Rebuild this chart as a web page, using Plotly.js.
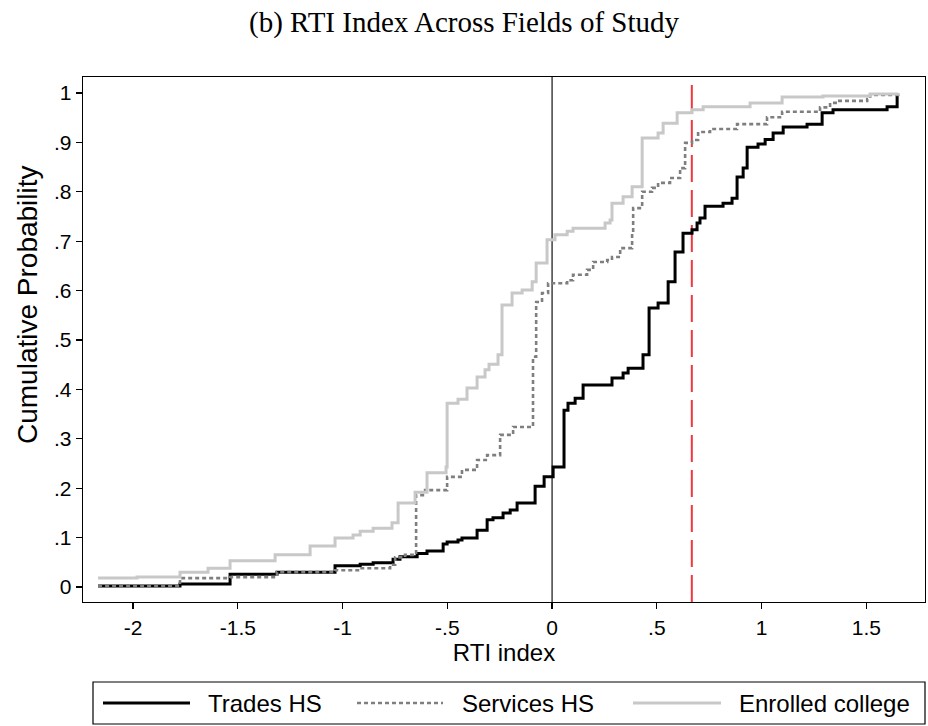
<!DOCTYPE html>
<html>
<head>
<meta charset="utf-8">
<script src="https://cdn.plot.ly/plotly-3.0.1.min.js"></script>
<style>
  html, body { margin: 0; padding: 0; background: #fff; }
  #chart { width: 928px; height: 726px; }
</style>
</head>
<body>
<div id="chart"></div>
<script>
// Empirical CDFs of the RTI index by field of study (step points: x where each level starts)
const tradesX = [-2.167,-1.776,-1.537,-1.313,-1.036,-0.916,-0.854,-0.759,-0.726,-0.644,-0.597,-0.520,-0.501,-0.449,-0.430,-0.358,-0.310,-0.282,-0.234,-0.200,-0.167,-0.081,-0.038,0.005,0.057,0.076,0.110,0.148,0.286,0.339,0.363,0.434,0.463,0.506,0.554,0.587,0.625,0.668,0.692,0.706,0.730,0.816,0.859,0.883,0.912,0.931,0.983,1.017,1.055,1.103,1.217,1.289,1.341,1.599,1.647];
const tradesY = [0.002,0.006,0.026,0.030,0.043,0.046,0.049,0.056,0.061,0.068,0.073,0.087,0.091,0.095,0.099,0.115,0.136,0.140,0.150,0.156,0.170,0.204,0.223,0.243,0.358,0.372,0.382,0.409,0.423,0.433,0.443,0.470,0.565,0.575,0.618,0.678,0.716,0.723,0.737,0.747,0.771,0.777,0.787,0.830,0.848,0.890,0.897,0.906,0.919,0.931,0.937,0.960,0.966,0.972,0.996];

const servicesX = [-2.167,-1.776,-1.537,-1.313,-1.036,-0.916,-0.773,-0.749,-0.702,-0.649,-0.606,-0.501,-0.430,-0.358,-0.310,-0.248,-0.186,-0.091,-0.076,-0.048,-0.019,0.072,0.100,0.167,0.196,0.263,0.286,0.325,0.382,0.387,0.430,0.477,0.506,0.563,0.611,0.635,0.668,0.697,0.754,0.883,1.026,1.098,1.279,1.327,1.360,1.504,1.518,1.652];
const servicesY = [0.002,0.018,0.020,0.030,0.034,0.038,0.045,0.060,0.065,0.186,0.196,0.223,0.237,0.257,0.267,0.308,0.324,0.466,0.577,0.595,0.615,0.621,0.632,0.642,0.658,0.662,0.668,0.686,0.716,0.767,0.800,0.808,0.818,0.828,0.848,0.899,0.905,0.921,0.927,0.937,0.951,0.962,0.971,0.980,0.984,0.988,0.996,0.998];

const collegeX = [-2.167,-1.981,-1.776,-1.642,-1.537,-1.322,-1.155,-1.036,-0.950,-0.916,-0.854,-0.764,-0.735,-0.654,-0.597,-0.506,-0.501,-0.449,-0.406,-0.358,-0.320,-0.301,-0.258,-0.239,-0.191,-0.143,-0.095,-0.076,-0.024,0.014,0.072,0.100,0.253,0.277,0.286,0.339,0.382,0.430,0.506,0.530,0.597,0.668,0.721,0.945,1.098,1.293,1.518,1.652];
const collegeY = [0.018,0.020,0.030,0.038,0.053,0.065,0.083,0.099,0.105,0.113,0.119,0.130,0.170,0.192,0.231,0.243,0.372,0.380,0.403,0.425,0.440,0.451,0.470,0.571,0.595,0.601,0.618,0.656,0.703,0.713,0.720,0.726,0.737,0.743,0.777,0.790,0.810,0.909,0.919,0.939,0.960,0.966,0.972,0.980,0.992,0.994,0.998,1.000];

const seriesNames = ['Trades HS', 'Services HS', 'Enrolled college'];
const xTickVals = [-2, -1.5, -1, -0.5, 0, 0.5, 1, 1.5];
const xTickText = ['-2', '-1.5', '-1', '-.5', '0', '.5', '1', '1.5'];
const yTickVals = [0, 0.1, 0.2, 0.3, 0.4, 0.5, 0.6, 0.7, 0.8, 0.9, 1];
const yTickText = ['0', '.1', '.2', '.3', '.4', '.5', '.6', '.7', '.8', '.9', '1'];
const refLines = [0, 0.667];   // zero line and cutoff line

const sans = 'Liberation Sans, Arial, sans-serif';
const styles = [
  { color: '#000000', width: 3, dash: 'solid' },
  { color: '#7f7f7f', width: 2.6, dash: '4px,3px' },
  { color: '#c8c8c8', width: 3, dash: 'solid' }
];
const xs = [tradesX, servicesX, collegeX];
const ys = [tradesY, servicesY, collegeY];

const traces = seriesNames.map((name, i) => ({
  type: 'scatter', mode: 'lines', name: name,
  x: xs[i], y: ys[i],
  line: { shape: 'hv', color: styles[i].color, width: styles[i].width, dash: styles[i].dash },
  showlegend: false, hoverinfo: 'skip'
}));

// plot area in pixels, used for placing the legend box and the y title
const L = 83, R = 925, T = 77, B = 602;
const W = 928, H = 726;
const px = v => (v - L) / (R - L);
const py = v => (B - v) / (B - T);

const shapes = [
  { type: 'line', xref: 'x', yref: 'paper', x0: refLines[0], x1: refLines[0], y0: 0, y1: 1,
    line: { color: '#222', width: 1.3 }, layer: 'below' },
  { type: 'line', xref: 'x', yref: 'paper', x0: refLines[1], x1: refLines[1], y0: 0, y1: 1,
    line: { color: '#f0383c', width: 2, dash: '27px,8px' }, layer: 'below' },
  // legend frame
  { type: 'rect', xref: 'paper', yref: 'paper', x0: px(93), x1: px(925), y0: py(724), y1: py(682),
    line: { color: '#000', width: 1.2 }, fillcolor: 'rgba(0,0,0,0)' }
];
const annotations = [
  // vertical axis title
  { xref: 'paper', yref: 'paper', x: px(27), y: py(305), xanchor: 'center', yanchor: 'middle',
    textangle: -90, showarrow: false, text: 'Cumulative Probability',
    font: { family: sans, size: 28, color: '#000' } }
];
const keyStart = [103, 357, 633], keyEnd = [190, 443, 721], labelStart = [206, 460, 737];
seriesNames.forEach((name, i) => {
  shapes.push({ type: 'line', xref: 'paper', yref: 'paper',
    x0: px(keyStart[i]), x1: px(keyEnd[i]), y0: py(703), y1: py(703),
    line: { color: styles[i].color, width: styles[i].width, dash: styles[i].dash } });
  annotations.push({ xref: 'paper', yref: 'paper', x: px(labelStart[i]), y: py(703),
    xanchor: 'left', yanchor: 'middle', showarrow: false, text: name,
    font: { family: sans, size: 24, color: '#000' } });
});

const layout = {
  width: W, height: H,
  paper_bgcolor: '#fff', plot_bgcolor: '#fff',
  margin: { l: L, r: W - R, t: T, b: H - B, pad: 0 },
  showlegend: false,
  title: {
    text: '(b) RTI Index Across Fields of Study',
    font: { family: 'Liberation Serif, Times New Roman, serif', size: 29, color: '#000' },
    x: 0.5, xref: 'container', xanchor: 'center',
    y: 1 - 22 / H, yref: 'container', yanchor: 'middle'
  },
  xaxis: {
    range: [-2.239, 1.780], tickmode: 'array', tickvals: xTickVals, ticktext: xTickText,
    ticks: 'outside', ticklen: 6, tickwidth: 1.3, tickcolor: '#000',
    showline: true, mirror: true, linecolor: '#000', linewidth: 1.4,
    showgrid: false, zeroline: false,
    tickfont: { family: sans, size: 21, color: '#000' },
    title: { text: 'RTI index', font: { family: sans, size: 24, color: '#000' }, standoff: 3 }
  },
  yaxis: {
    range: [-0.0304, 1.0324], tickmode: 'array', tickvals: yTickVals, ticktext: yTickText,
    ticks: 'outside', ticklen: 6, tickwidth: 1.3, tickcolor: '#000',
    showline: true, mirror: true, linecolor: '#000', linewidth: 1.4,
    showgrid: false, zeroline: false,
    tickfont: { family: sans, size: 21, color: '#000' }
  },
  shapes: shapes,
  annotations: annotations
};

Plotly.newPlot('chart', traces, layout, { displayModeBar: false, staticPlot: true });
</script>
</body>
</html>
